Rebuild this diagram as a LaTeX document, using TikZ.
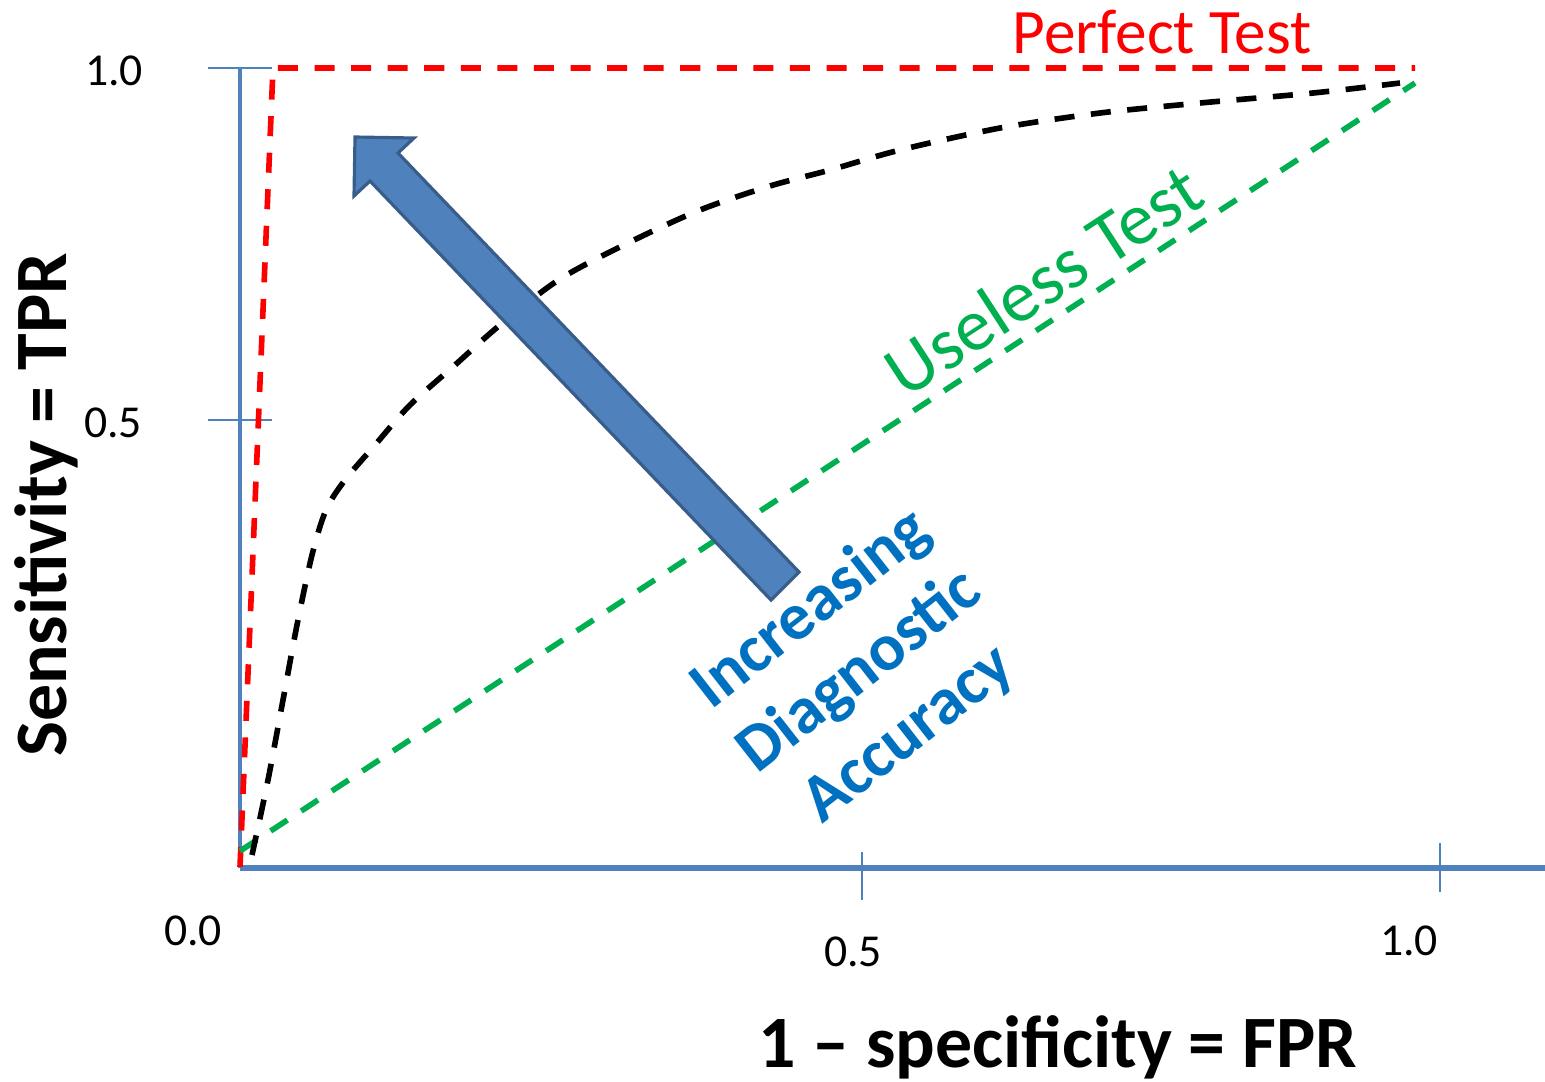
\documentclass[tikz,border=0pt]{standalone}
\usepackage{fontspec}
\setmainfont{Carlito}

\definecolor{axisblue}{HTML}{4F81BD}
\definecolor{arrowedge}{HTML}{385D8A}
\definecolor{uselessgreen}{HTML}{00B050}
\definecolor{labelblue}{HTML}{0070C0}

\tikzset{
  axisline/.style={axisblue, line width=1.2pt},
  tickline/.style={axisblue, line width=0.6pt},
  roccurve/.style={line width=1.6pt, dash pattern=on 5.7pt off 4.7pt},
  ticklabel/.style={font=\fontsize{13}{15}\selectfont, anchor=base, inner sep=0pt},
  axislabel/.style={font=\fontsize{21}{25}\selectfont\bfseries, anchor=base, inner sep=0pt},
}

\begin{document}
\begin{tikzpicture}[x=0.01cm, y=-0.01cm]
  \useasboundingbox (0,0) rectangle (1545,1081);

  % axes
  \coordinate (o) at (240,868);
  \coordinate (ytop) at (240,68);
  \coordinate (xend) at (1545,868);
  \draw[axisline] (o) -- (ytop);
  \draw[axisline, line width=1.5pt] (o) -- (xend);

  % ticks
  \draw[tickline] (208,68) -- (272,68);
  \draw[tickline] (208,420) -- (272,420);
  \draw[tickline] (862,852) -- (862,900);
  \draw[tickline] (1440,843) -- (1440,892);

  \node[ticklabel] (y1) at (114,85) {1.0};
  \node[ticklabel] (y05) at (113,437) {0.5};
  \node[ticklabel] (x0) at (193,945) {0.0};
  \node[ticklabel] (x05) at (853,966) {0.5};
  \node[ticklabel] (x1) at (1409,955) {1.0};

  % perfect test
  \coordinate (pbot) at (240,867);
  \coordinate (pcorner) at (273,68);
  \coordinate (pend) at (1415,68);
  \draw[roccurve, red] (pbot) -- (pcorner) -- (pend);

  % useless test
  \coordinate (gstart) at (240,851);
  \coordinate (gend) at (1415,83);
  \draw[roccurve, uselessgreen] (gstart) -- (gend);

  % a real test
  \draw[roccurve, black] plot[smooth, tension=0.5] coordinates {
    (252,855) (268,780) (283,700) (297,625) (312,555) (326,510)
    (345,480) (375,445) (410,405) (455,365) (500,325) (560,279)
    (630,242) (700,210) (770,186) (830,170) (900,150) (1000,128)
    (1100,113) (1200,103) (1313,93) (1400,83)};

  % big arrow
  \draw[fill=axisblue, draw=arrowedge, line width=0.9pt, line join=miter]
    (355,137) -- (414,138) -- (398,153) -- (799,572) -- (771,600)
    -- (370,181) -- (354,196) -- cycle;

  \node[red, anchor=base, inner sep=0pt, font=\fontsize{18}{21}\selectfont]
    (perfect) at (1162,53) {Perfect Test};
  \node[uselessgreen, rotate=33, font=\fontsize{21}{24}\selectfont]
    (useless) at (1043,280) {Useless Test};
  \node[labelblue, rotate=38, align=center, font=\fontsize{19}{22.5}\selectfont\bfseries]
    (accuracy) at (860,672) {Increasing\\Diagnostic\\Accuracy};

  \node[axislabel, rotate=90] (tpr) at (66,505) {Sensitivity = TPR};
  \node[axislabel] (fpr) at (1058,1067) {1 -- specificity = FPR};

\end{tikzpicture}
\end{document}
